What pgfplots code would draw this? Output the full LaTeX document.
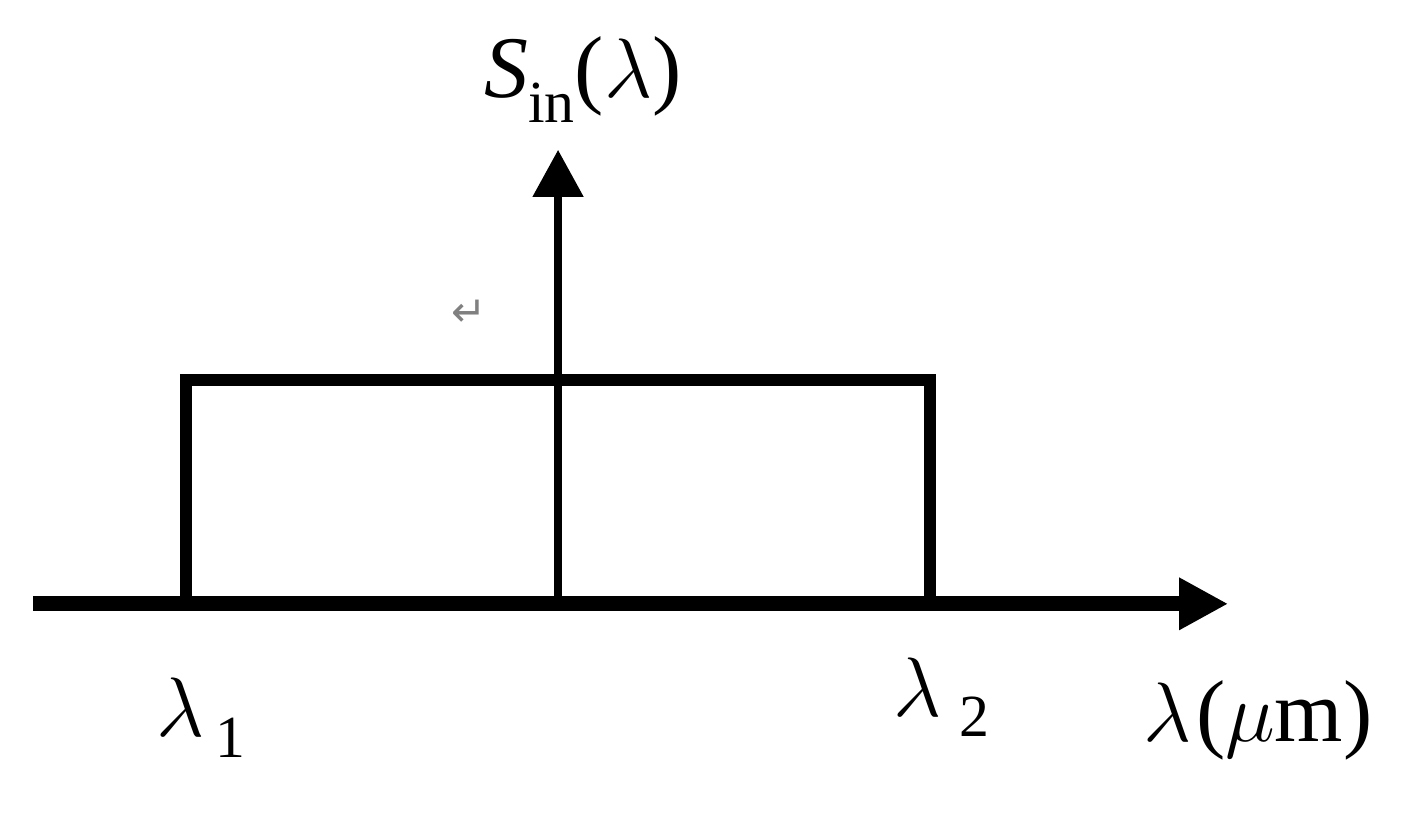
\documentclass[border=0pt]{standalone}
\usepackage{fontspec}
\setmainfont{Liberation Serif}
\newfontfamily\arrowfont{DejaVu Sans}
\usepackage{pgfplots}
\pgfplotsset{compat=1.18}
\usetikzlibrary{arrows.meta}

% lowered, smaller subscript in text font
\newcommand{\sub}[2]{\raisebox{-#1}{\fontsize{8.5pt}{10pt}\selectfont #2}}

\begin{document}
\begin{tikzpicture}[
    lbl/.style={anchor=base west, inner sep=0pt, font=\fontsize{12.5pt}{15pt}\selectfont},
]
\begin{axis}[
    scale only axis,
    width=5.975cm, height=2.27cm,
    xmin=-1.41, xmax=1.80,
    ymin=0, ymax=2.027,
    enlargelimits=false,
    axis lines=middle,
    xtick=\empty, ytick=\empty,
    x axis line style={line width=0.75mm, -{Triangle[length=2.45mm, width=2.45mm]}},
    y axis line style={line width=0.4mm, -{Triangle[length=2.35mm, width=2.45mm]}},
    clip=false,
]
% rectangular spectrum between lambda_1 and lambda_2
\addplot[black, line width=0.6mm, line join=miter, mark=none]
    coordinates {(-1,0) (-1,1) (1,1) (1,0)};

% page extent
\path (axis cs:-1.499,-0.9375) rectangle (axis cs:2.275,2.696);

\node[lbl] at (axis cs:-0.2015,2.259) {\textit{S}\sub{0.28em}{in}($\lambda$)};
\node[lbl] at (axis cs:-1.0825,-0.594) {$\lambda$\hspace{0.12em}\sub{0.24em}{1}};
\node[lbl] at (axis cs:0.897,-0.504) {$\lambda$\hspace{0.2em}\sub{0.23em}{2}};
\node[lbl] at (axis cs:1.5686,-0.616) {$\lambda$\hspace{0.05em}($\mu$m)};
\node[inner sep=0pt, text=gray, font=\arrowfont\fontsize{6pt}{7pt}\selectfont]
    at (axis cs:-0.239,1.295) {↵};
\end{axis}
\end{tikzpicture}
\end{document}
